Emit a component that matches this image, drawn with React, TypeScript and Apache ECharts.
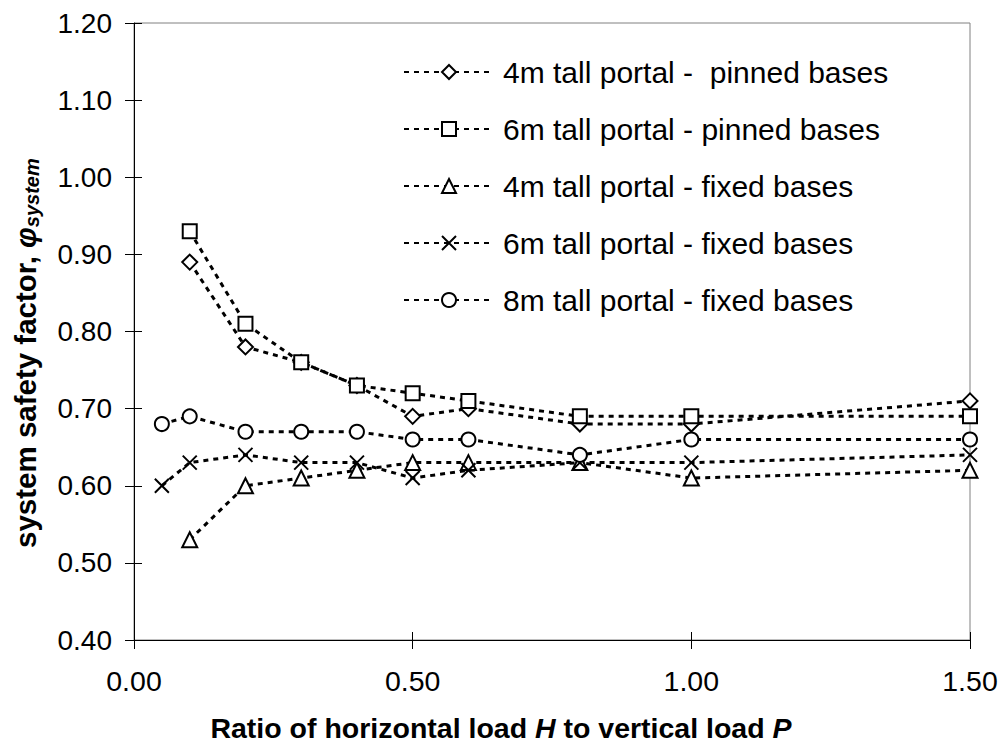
import React, { useEffect, useRef } from 'react';
import * as echarts from 'echarts';

const seriesNames = [
  '4m tall portal -  pinned bases',
  '6m tall portal - pinned bases',
  '4m tall portal - fixed bases',
  '6m tall portal - fixed bases',
  '8m tall portal - fixed bases',
];
const xPinned = [0.1, 0.2, 0.3, 0.4, 0.5, 0.6, 0.8, 1.0, 1.5];
const xFixed4m = [0.1, 0.2, 0.3, 0.4, 0.5, 0.6, 0.8, 1.0, 1.5];
const xFixed = [0.05, 0.1, 0.2, 0.3, 0.4, 0.5, 0.6, 0.8, 1.0, 1.5];
const pinned4m = [0.89, 0.78, 0.76, 0.73, 0.69, 0.70, 0.68, 0.68, 0.71];
const pinned6m = [0.93, 0.81, 0.76, 0.73, 0.72, 0.71, 0.69, 0.69, 0.69];
const fixed4m = [0.53, 0.60, 0.61, 0.62, 0.63, 0.63, 0.63, 0.61, 0.62];
const fixed6m = [0.60, 0.63, 0.64, 0.63, 0.63, 0.61, 0.62, 0.63, 0.63, 0.64];
const fixed8m = [0.68, 0.69, 0.67, 0.67, 0.67, 0.66, 0.66, 0.64, 0.66, 0.66];

const xMin = 0;
const xMax = 1.5;
const xStep = 0.5;
const yMin = 0.4;
const yMax = 1.2;
const yStep = 0.1;

const FONT = "'Liberation Sans', Arial, Helvetica, sans-serif";
const crossPath = 'path://M0,0L12,12M12,0L0,12';

function zip(xs: number[], ys: number[]) {
  return xs.map((x, i) => [x, ys[i]]);
}

export default function App() {
  const ref = useRef<HTMLDivElement>(null);
  useEffect(() => {
    document.body.style.margin = '0';
    if (!ref.current) return;
    const chart = echarts.init(ref.current, null, { renderer: 'svg' });
    const lineStyle = { color: '#000', width: 3, type: [5, 5] as any };
    const mk = (name: string, data: number[][], symbol: string, size: number, fill: string) => ({
      name,
      type: 'line',
      data,
      symbol,
      symbolSize: size,
      showSymbol: true,
      lineStyle,
      itemStyle: { color: fill, borderColor: '#000', borderWidth: 2 },
      emphasis: { disabled: true },
      xAxisIndex: 0,
      yAxisIndex: 0,
      z: 3,
    });
    const option: any = {
      animation: false,
      backgroundColor: '#fff',
      textStyle: { fontFamily: FONT },
      grid: {
        left: 134,
        top: 23,
        right: 34,
        bottom: 105,
        show: true,
        borderColor: '#808080',
        borderWidth: 1,
        backgroundColor: 'transparent',
        containLabel: false,
        outerBoundsMode: 'none',
      },
      legend: {
        orient: 'vertical',
        left: 398,
        top: 52,
        itemWidth: 90,
        itemHeight: 17.5,
        itemGap: 27,
        selectedMode: false,
        data: seriesNames,
        textStyle: {
          fontFamily: FONT,
          fontSize: 30,
          color: '#000',
          lineHeight: 30,
          padding: [0, 0, 0, 4],
        },
      },
      xAxis: [
        {
          type: 'value',
          min: xMin,
          max: xMax,
          interval: xStep,
          position: 'bottom',
          axisLine: { show: true, lineStyle: { color: '#000', width: 1 } },
          axisTick: { show: true, inside: false, length: 9, lineStyle: { color: '#000' } },
          axisLabel: {
            show: true,
            margin: 26,
            fontSize: 28.5,
            color: '#000',
            fontFamily: FONT,
            formatter: (v: number) => v.toFixed(2),
          },
          splitLine: { show: false },
        },
        {
          type: 'value',
          min: xMin,
          max: xMax,
          interval: xStep,
          position: 'bottom',
          offset: 0,
          axisLine: { show: false },
          axisTick: { show: true, inside: true, length: 8, lineStyle: { color: '#000' } },
          axisLabel: { show: false },
          splitLine: { show: false },
        },
      ],
      yAxis: [
        {
          type: 'value',
          min: yMin,
          max: yMax,
          interval: yStep,
          position: 'left',
          axisLine: { show: true, lineStyle: { color: '#000', width: 1 } },
          axisTick: { show: true, inside: false, length: 9, lineStyle: { color: '#000' } },
          axisLabel: {
            show: true,
            margin: 22,
            fontSize: 28,
            color: '#000',
            fontFamily: FONT,
            formatter: (v: number) => v.toFixed(2),
          },
          splitLine: { show: false },
        },
        {
          type: 'value',
          min: yMin,
          max: yMax,
          interval: yStep,
          position: 'left',
          offset: 0,
          axisLine: { show: false },
          axisTick: { show: true, inside: true, length: 8, lineStyle: { color: '#000' } },
          axisLabel: { show: false },
          splitLine: { show: false },
        },
      ],
      graphic: [
        {
          type: 'text',
          x: 501,
          y: 728,
          style: {
            text: '{b|Ratio of horizontal load }{i|H}{b| to vertical load }{i|P}',
            align: 'center',
            verticalAlign: 'middle',
            rich: {
              b: { fontFamily: FONT, fontSize: 28.5, fontWeight: 'bold', fill: '#000' },
              i: { fontFamily: FONT, fontSize: 28.5, fontWeight: 'bold', fontStyle: 'italic', fill: '#000' },
            },
          },
        },
        {
          type: 'text',
          x: 25,
          y: 548,
          rotation: Math.PI / 2,
          style: {
            text: '{b|system safety factor, }{i|φ}{s|system}',
            align: 'left',
            verticalAlign: 'middle',
            rich: {
              b: { fontFamily: FONT, fontSize: 29.5, fontWeight: 'bold', fill: '#000', lineHeight: 34 },
              i: { fontFamily: FONT, fontSize: 29.5, fontWeight: 'bold', fontStyle: 'italic', fill: '#000', lineHeight: 34 },
              s: { fontFamily: FONT, fontSize: 20, fontWeight: 'bold', fontStyle: 'italic', fill: '#000', lineHeight: 34, verticalAlign: 'bottom' },
            },
          },
        },
      ],
      series: [
        mk(seriesNames[0], zip(xPinned, pinned4m), 'diamond', 15, '#fff'),
        mk(seriesNames[1], zip(xPinned, pinned6m), 'rect', 14, '#fff'),
        mk(seriesNames[2], zip(xFixed4m, fixed4m), 'triangle', 15, '#fff'),
        mk(seriesNames[3], zip(xFixed, fixed6m), crossPath, 14, 'none'),
        mk(seriesNames[4], zip(xFixed, fixed8m), 'circle', 14, '#fff'),
      ],
    };
    chart.setOption(option);
    return () => {
      chart.dispose();
    };
  }, []);
  return <div ref={ref} style={{ width: 1004, height: 745 }} />;
}
